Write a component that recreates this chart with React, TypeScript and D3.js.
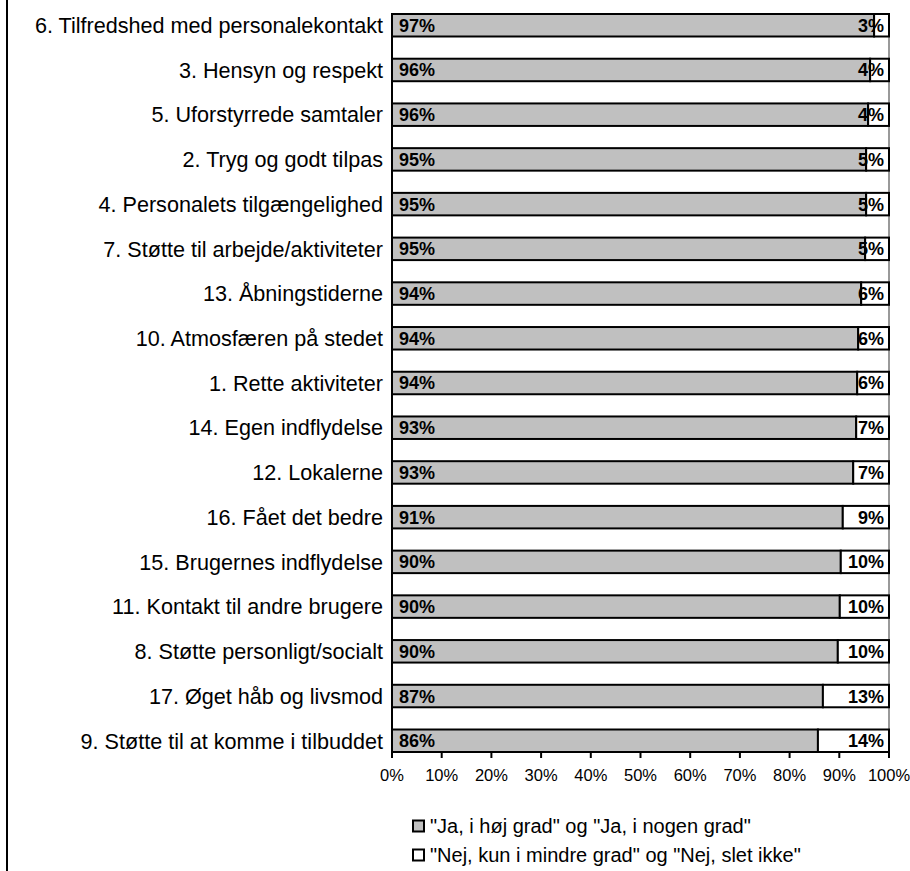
import * as d3 from "d3";
import React from "react";

// categories, top to bottom
const categories: string[] = [
  "6. Tilfredshed med personalekontakt",
  "3. Hensyn og respekt",
  "5. Uforstyrrede samtaler",
  "2. Tryg og godt tilpas",
  "4. Personalets tilgængelighed",
  "7. Støtte til arbejde/aktiviteter",
  "13. Åbningstiderne",
  "10. Atmosfæren på stedet",
  "1. Rette aktiviteter",
  "14. Egen indflydelse",
  "12. Lokalerne",
  "16. Fået det bedre",
  "15. Brugernes indflydelse",
  "11. Kontakt til andre brugere",
  "8. Støtte personligt/socialt",
  "17. Øget håb og livsmod",
  "9. Støtte til at komme i tilbuddet",
];

// "Ja" share (percent)
const yesValues: number[] = [
  97.0, 96.2, 95.8, 95.4, 95.4, 95.2, 94.4, 93.8, 93.6, 93.4, 92.8, 90.7, 90.3, 90.1, 89.7, 86.7, 85.7,
];
// "Nej" share (percent)
const noValues: number[] = [
  3.0, 3.8, 4.2, 4.6, 4.6, 4.8, 5.6, 6.2, 6.4, 6.6, 7.2, 9.3, 9.7, 9.9, 10.3, 13.3, 14.3,
];

const ticks: number[] = [0, 10, 20, 30, 40, 50, 60, 70, 80, 90, 100];

const legendLabels: string[] = [
  '"Ja, i høj grad" og "Ja, i nogen grad"',
  '"Nej, kun i mindre grad" og "Nej, slet ikke"',
];
const fills = ["#c0c0c0", "#ffffff"];

const W = 910;
const H = 871;
const FONT = "'Liberation Sans', Arial, sans-serif";

export default function App() {
  const x = d3.scaleLinear().domain([0, 100]).range([392, 889]);
  const y = d3
    .scaleBand<string>()
    .domain(categories)
    .range([14, 752])
    .paddingInner(0.497)
    .paddingOuter(0);
  const bw = y.bandwidth();
  const fmt = (v: number) => `${Math.round(v)}%`;

  return (
    <svg
      width={W}
      height={H}
      style={{ position: "absolute", left: 0, top: 0, background: "#fff" }}
      fontFamily={FONT}
    >
      <rect x={0} y={0} width={W} height={H} fill="#fff" />
      {/* outer left frame line */}
      <line x1={7} y1={0} x2={7} y2={H} stroke="#000" strokeWidth={2} />

      {/* plot area right border */}
      <line x1={x(100)} y1={14} x2={x(100)} y2={752} stroke="#999" strokeWidth={2} />

      {categories.map((c, i) => {
        const yy = y(c)!;
        const cy = yy + bw / 2;
        return (
          <g key={c}>
            <text x={383} y={cy} dy="0.36em" textAnchor="end" fontSize={21.6} fill="#000">
              {c}
            </text>
            <rect
              x={x(0)}
              y={yy}
              width={x(yesValues[i]) - x(0)}
              height={bw}
              fill={fills[0]}
              stroke="#000"
              strokeWidth={2}
            />
            <rect
              x={x(yesValues[i])}
              y={yy}
              width={x(yesValues[i] + noValues[i]) - x(yesValues[i])}
              height={bw}
              fill={fills[1]}
              stroke="#000"
              strokeWidth={2}
            />
            <text x={x(0) + 7} y={cy} dy="0.36em" fontSize={18} fontWeight="bold" fill="#000">
              {fmt(yesValues[i])}
            </text>
            <text
              x={x(100) - 5}
              y={cy}
              dy="0.36em"
              textAnchor="end"
              fontSize={18}
              fontWeight="bold"
              fill="#000"
            >
              {fmt(noValues[i])}
            </text>
          </g>
        );
      })}

      {/* axes */}
      <line x1={x(0)} y1={14} x2={x(0)} y2={752} stroke="#000" strokeWidth={2} />
      <line x1={x(0)} y1={752} x2={x(100)} y2={752} stroke="#000" strokeWidth={2} />
      {ticks.map((t) => (
        <g key={t}>
          <line x1={x(t)} y1={752} x2={x(t)} y2={758} stroke="#000" strokeWidth={2} />
          <text x={x(t)} y={775} dy="0.36em" textAnchor="middle" fontSize={16.5} fill="#000">
            {t}%
          </text>
        </g>
      ))}

      {/* legend */}
      {legendLabels.map((l, i) => {
        const cy = 826 + i * 29;
        return (
          <g key={l}>
            <rect x={413} y={cy - 5.5} width={11} height={11} fill={fills[i]} stroke="#000" strokeWidth={2} />
            <text x={430} y={cy} dy="0.36em" fontSize={20} fill="#000">
              {l}
            </text>
          </g>
        );
      })}
    </svg>
  );
}
